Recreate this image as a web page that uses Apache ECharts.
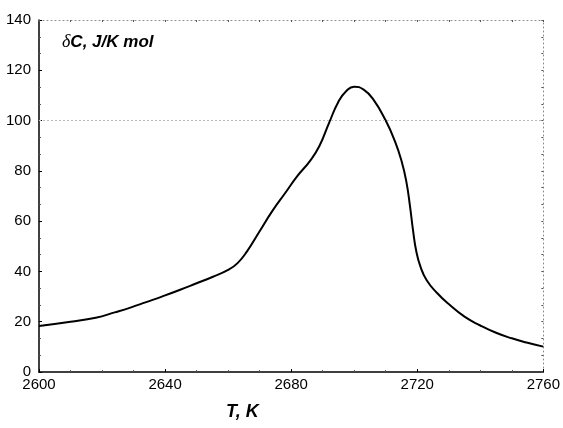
<!DOCTYPE html>
<html>
<head>
<meta charset="utf-8">
<script src="https://cdn.jsdelivr.net/npm/echarts@6/dist/echarts.min.js"></script>
<style>html,body{margin:0;padding:0;background:#fff}#c{width:563px;height:428px}</style>
</head>
<body>
<div id="c"></div>
<script>
const temps = [2600, 2610, 2618, 2624, 2629, 2634, 2639, 2645, 2650, 2655, 2660, 2663, 2666, 2670, 2674, 2678, 2682, 2686, 2689, 2692, 2695, 2697.5, 2700, 2703, 2706, 2710, 2713, 2715, 2716.5, 2717.7, 2718.7, 2719.7, 2721, 2723, 2726.3, 2730, 2735, 2740, 2745, 2750, 2755, 2760];
const deltaC = [18.3, 20.0, 21.6, 23.7, 25.6, 27.8, 30.0, 32.8, 35.3, 37.8, 40.6, 43.3, 48, 56, 64, 71, 78, 84, 90, 99, 107.5, 111.8, 113.5, 112.3, 108.5, 100, 91.5, 84, 76, 66, 56, 48, 42, 36.5, 31.4, 27, 22, 18.5, 15.6, 13.4, 11.6, 10.1];
const xTicks = [2600, 2640, 2680, 2720, 2760];
const yTicks = [0, 20, 40, 60, 80, 100, 120, 140];
const gridLineValue = 100;
const yTitle = 'δC, J/K mol';
const xTitle = 'T, K';

const chart = echarts.init(document.getElementById('c'), null, {renderer: 'canvas'});
const font = '"Liberation Sans", Arial, sans-serif';
const boldAxis = {show: true, onZero: false, lineStyle: {color: '#000', width: 1.5}};
const dotAxis = {show: true, onZero: false, lineStyle: {color: '#888', width: 1, type: [1, 3]}};
chart.setOption({
  animation: false,
  backgroundColor: '#fff',
  grid: {left: 39, right: 16, top: 20, bottom: 56, containLabel: false},
  xAxis: [{
    type: 'value', min: xTicks[0], max: xTicks[xTicks.length - 1], interval: 40,
    axisLine: boldAxis,
    axisTick: {show: true, inside: true, length: 3, lineStyle: {color: '#000'}},
    minorTick: {show: true, splitNumber: 4, length: 2, lineStyle: {color: '#555'}},
    splitLine: {show: false},
    axisLabel: {color: '#000', fontSize: 15, fontFamily: font, margin: 5, formatter: v => String(v)}
  }, {
    type: 'value', position: 'top', min: xTicks[0], max: xTicks[xTicks.length - 1], interval: 40,
    axisLine: dotAxis,
    axisTick: {show: true, inside: true, length: 2, lineStyle: {color: '#555'}},
    minorTick: {show: true, splitNumber: 4, length: 2, lineStyle: {color: '#555'}},
    splitLine: {show: false}, axisLabel: {show: false}
  }],
  yAxis: [{
    type: 'value', min: yTicks[0], max: yTicks[yTicks.length - 1], interval: 20,
    axisLine: boldAxis,
    axisTick: {show: true, inside: true, length: 3, lineStyle: {color: '#000'}},
    minorTick: {show: true, splitNumber: 3, length: 2, lineStyle: {color: '#555'}},
    splitLine: {show: false},
    axisLabel: {color: '#000', fontSize: 15, fontFamily: font, margin: 8}
  }, {
    type: 'value', position: 'right', min: yTicks[0], max: yTicks[yTicks.length - 1], interval: 20,
    axisLine: dotAxis,
    axisTick: {show: true, inside: true, length: 2, lineStyle: {color: '#555'}},
    minorTick: {show: true, splitNumber: 3, length: 2, lineStyle: {color: '#555'}},
    splitLine: {show: false}, axisLabel: {show: false}
  }],
  graphic: [
    {type: 'text', left: 62, top: 33, style: {
      rich: {d: {fontFamily: '"Liberation Serif", "DejaVu Serif", serif', fontStyle: 'italic', fontSize: 18, fill: '#000'},
             t: {fontFamily: font, fontWeight: 'bold', fontStyle: 'italic', fontSize: 17, fill: '#000'}},
      text: '{d|' + yTitle.charAt(0) + '}{t|' + yTitle.slice(1) + '}'}},
    {type: 'text', left: 226, top: 403, style: {text: xTitle, fontSize: 18, fontWeight: 'bold', fontStyle: 'italic', fontFamily: font, fill: '#000'}}
  ],
  series: [{
    type: 'line',
    data: temps.map((t, i) => [t, deltaC[i]]),
    smooth: 0.5,
    symbol: 'none',
    lineStyle: {color: '#000', width: 2},
    markLine: {
      silent: true, symbol: 'none', label: {show: false},
      lineStyle: {color: '#bbb', width: 1, type: [2, 2]},
      data: [{yAxis: gridLineValue}]
    }
  }]
});
</script>
</body>
</html>
